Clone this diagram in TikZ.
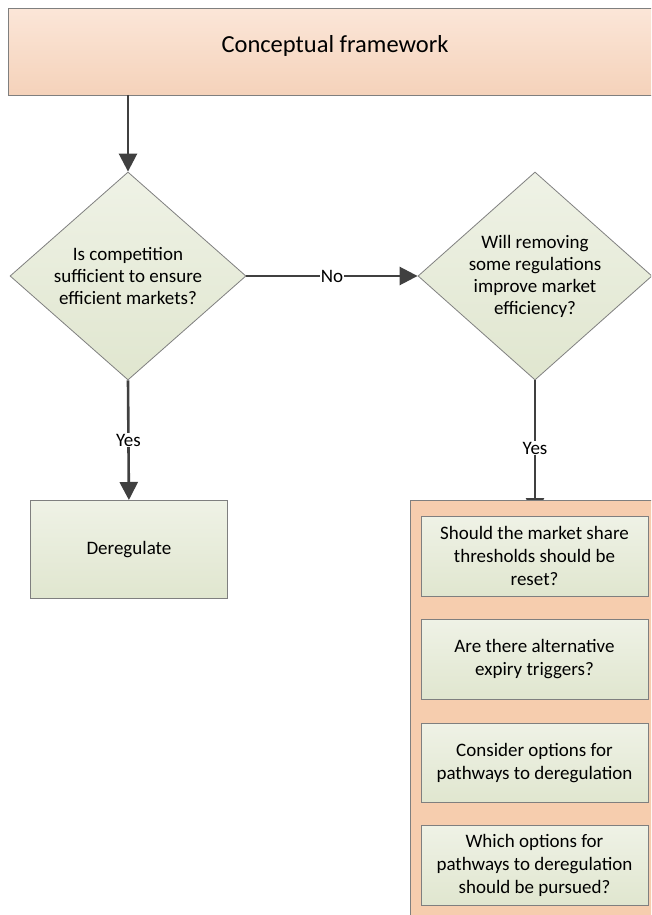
\documentclass[tikz,border=0pt]{standalone}
\usepackage{fontspec}
\setmainfont{Carlito}
\usetikzlibrary{shapes.geometric,arrows.meta}
\definecolor{linegray}{HTML}{404040}
\definecolor{edgegray}{HTML}{7F7F7F}
\definecolor{peachtop}{HTML}{FBE6D8}
\definecolor{peachbot}{HTML}{F5D2BA}
\definecolor{panelfill}{HTML}{F6CDAE}
\definecolor{greentop}{HTML}{EFF2E6}
\definecolor{greenbot}{HTML}{E0E6CF}
\tikzset{
  x=1pt, y=-1pt,
  conn/.style={draw=linegray, line width=2.6pt, -{Triangle[length=18pt,width=18pt]}},
  lbl/.style={fill=white, inner sep=1pt, font=\fontsize{19}{22}\selectfont, text=black},
  greenbox/.style={draw=edgegray, line width=0.8pt, top color=greentop, bottom color=greenbot, align=center, inner sep=0pt, font=\fontsize{19}{23}\selectfont},
  decision/.style={diamond, aspect=1.13, draw=edgegray, line width=0.8pt, top color=greentop, bottom color=greenbot, align=center, inner sep=0pt, font=\fontsize{19}{22}\selectfont},
}
\begin{document}
\begin{tikzpicture}
\clip (0,0) rectangle (651,915);
% title box
\node[draw=edgegray, line width=0.8pt, top color=peachtop, bottom color=peachbot, minimum width=652pt, minimum height=87pt, inner sep=0pt, anchor=north west] (title) at (8,8) {};
\node[font=\fontsize{24.5}{28}\selectfont] (titletext) at (335,46) {Conceptual framework};
% diamonds
\node[decision, minimum width=236pt, minimum height=208pt] (d1) at (128,276) {Is competition\\sufficient to ensure\\efficient markets?};
\node[decision, minimum width=234pt, minimum height=208pt] (d2) at (535,276) {Will removing\\some regulations\\improve market\\efficiency?};
% deregulate
\node[greenbox, minimum width=197pt, minimum height=98pt, anchor=north west] (dereg) at (30,500) {Deregulate};
% arrows
\draw[conn] (128,95) -- (d1.north);
\draw[conn] (d1.east) -- node[lbl] (no) {No} (d2.west);
\draw[conn] (d1.south) -- node[lbl, pos=0.5] (yes1) {Yes} (dereg.north);
\coordinate (hidden) at (535,516);
\draw[conn] (d2.south) -- node[lbl, pos=0.5] (yes2) {Yes} (hidden);
% panel
\node[draw=edgegray, line width=0.8pt, fill=panelfill, minimum width=260pt, minimum height=430pt, anchor=north west, inner sep=0pt] (panel) at (410,500) {};
\node[greenbox, minimum width=227pt, minimum height=80pt] (q1) at (534.5,556) {Should the market share\\thresholds should be\\reset?};
\node[greenbox, minimum width=227pt, minimum height=80pt] (q2) at (534.5,659) {Are there alternative\\expiry triggers?};
\node[greenbox, minimum width=227pt, minimum height=79pt] (q3) at (534.5,763) {Consider options for\\pathways to deregulation};
\node[greenbox, minimum width=227pt, minimum height=80pt] (q4) at (534.5,865) {Which options for\\pathways to deregulation\\should be pursued?};
\end{tikzpicture}
\end{document}
